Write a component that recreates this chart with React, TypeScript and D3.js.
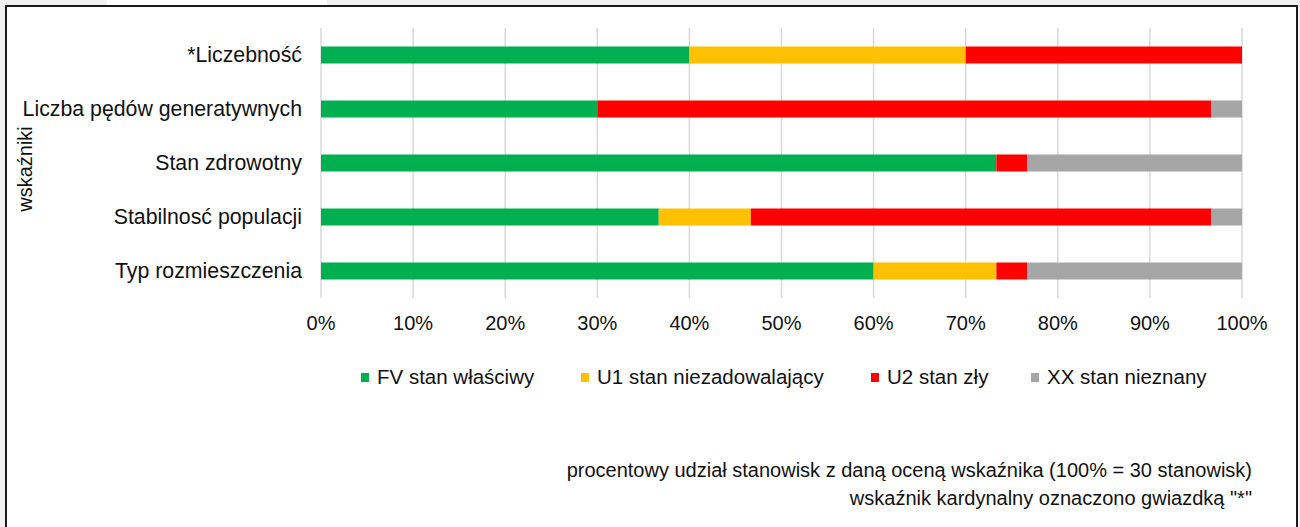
import React from "react";
import * as d3 from "d3";

const categories = [
  "*Liczebność",
  "Liczba pędów generatywnych",
  "Stan zdrowotny",
  "Stabilnosć populacji",
  "Typ rozmieszczenia",
];
const seriesNames = ["FV stan właściwy", "U1 stan niezadowalający", "U2 stan zły", "XX stan nieznany"];
const seriesKeys = ["FV", "U1", "U2", "XX"];
const fvValues = [40, 30, 73.33, 36.67, 60];
const u1Values = [30, 0, 0, 10, 13.33];
const u2Values = [30, 66.67, 3.33, 50, 3.33];
const xxValues = [0, 3.33, 23.33, 3.33, 23.33];
const xTicks = [0, 10, 20, 30, 40, 50, 60, 70, 80, 90, 100];
const colors = ["#00B050", "#FFC000", "#FF0000", "#A6A6A6"];
const yAxisTitle = "wskaźniki";
const note1 = "procentowy udział stanowisk z daną oceną wskaźnika (100% = 30 stanowisk)";
const note2 = 'wskaźnik kardynalny oznaczono gwiazdką "*"';

const FONT = "'Liberation Sans', Arial, Helvetica, sans-serif";
const TEXT = "#111111";

export default function App() {
  const W = 1300;
  const H = 527;
  const x = d3.scaleLinear().domain([0, 100]).range([321, 1242]);
  const y = d3.scaleBand<string>().domain(categories).range([28, 298]).paddingInner(0.685).paddingOuter(0.3425);

  const rows = categories.map((c, i) => ({
    cat: c,
    FV: fvValues[i],
    U1: u1Values[i],
    U2: u2Values[i],
    XX: xxValues[i],
  }));
  const stacked = d3.stack<any>().keys(seriesKeys)(rows);

  const legendX = [361, 581, 871, 1031];

  return (
    <div style={{ position: "absolute", left: 0, top: 0 }}>
      <svg width={W} height={H} style={{ display: "block" }}>
        <rect x={0} y={0} width={W} height={H} fill="#f0f0f0" />
        <rect x={107} y={0} width={220} height={6} fill="#ffffff" />
        <rect x={6} y={6} width={1291} height={H} fill="#ffffff" stroke="#1a1a1a" strokeWidth={2} />

        {xTicks.map((t) => (
          <line key={t} x1={x(t)} x2={x(t)} y1={28} y2={298} stroke="#d9d9d9" strokeWidth={1.5} />
        ))}

        {stacked.map((s, si) => (
          <g key={s.key} fill={colors[si]}>
            {s.map((d, i) =>
              d[1] - d[0] > 0 ? (
                <rect
                  key={i}
                  x={x(d[0])}
                  y={y(categories[i])!}
                  width={x(d[1]) - x(d[0])}
                  height={y.bandwidth()}
                />
              ) : null
            )}
          </g>
        ))}

        {categories.map((c) => (
          <text
            key={c}
            x={302}
            y={y(c)! + y.bandwidth() / 2 + 7}
            textAnchor="end"
            fontFamily={FONT}
            fontSize={21.3}
            fill={TEXT}
          >
            {c}
          </text>
        ))}

        {xTicks.map((t) => (
          <text key={t} x={x(t)} y={330} textAnchor="middle" fontFamily={FONT} fontSize={20} fill={TEXT}>
            {t + "%"}
          </text>
        ))}

        <text
          transform={`translate(32,169) rotate(-90)`}
          textAnchor="middle"
          fontFamily={FONT}
          fontSize={20}
          fill={TEXT}
        >
          {yAxisTitle}
        </text>

        {seriesNames.map((n, i) => (
          <g key={n}>
            <rect x={legendX[i]} y={373} width={8} height={9} fill={colors[i]} />
            <text x={legendX[i] + 16} y={384} fontFamily={FONT} fontSize={20.5} fill={TEXT}>
              {n}
            </text>
          </g>
        ))}

        <text x={1252} y={477} textAnchor="end" fontFamily={FONT} fontSize={20} fill={TEXT}>
          {note1}
        </text>
        <text x={1252} y={505} textAnchor="end" fontFamily={FONT} fontSize={20} fill={TEXT}>
          {note2}
        </text>
      </svg>
    </div>
  );
}
